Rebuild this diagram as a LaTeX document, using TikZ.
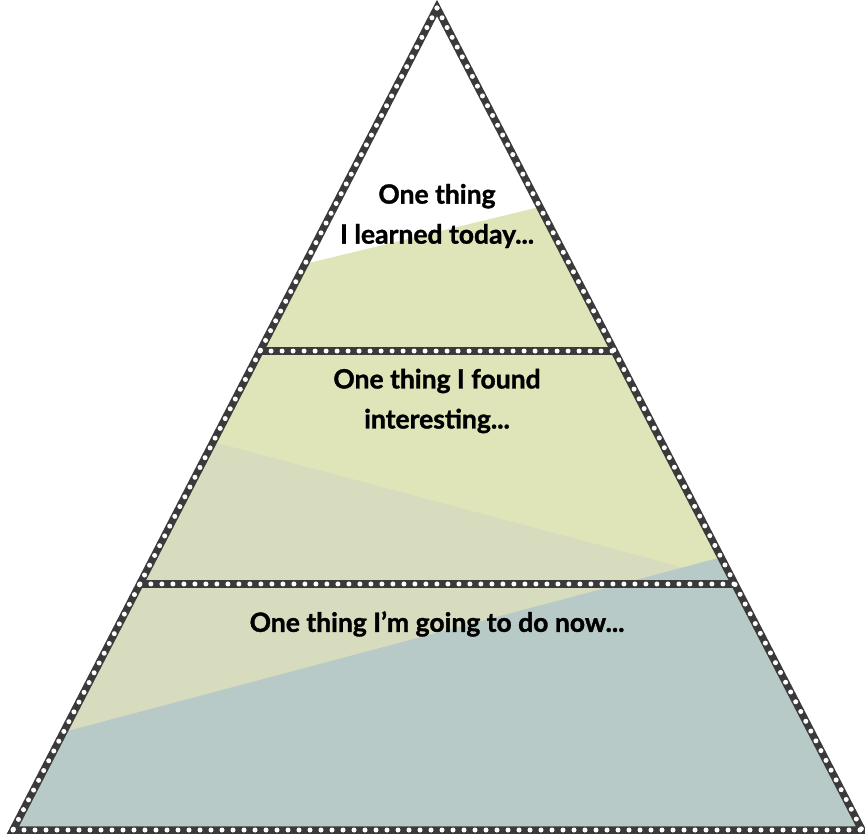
\documentclass[tikz,border=0pt]{standalone}
\usepackage{fontspec}
\setmainfont{Lato}[BoldFeatures={FakeBold=1.3}]
\usetikzlibrary{calc}
\definecolor{dgray}{HTML}{3A3A3A}
\definecolor{gfill}{HTML}{DFE5B9}
\definecolor{gdark}{HTML}{D8DCBE}
\definecolor{bfill}{HTML}{B8CAC7}
\tikzset{
  border/.style={draw=dgray, line width=7.5pt, line join=miter},
  dots/.style={draw=white, line width=5pt, line cap=round, dash pattern=on 0pt off 11pt},
  lbl/.style={font=\fontsize{26.5}{40}\selectfont\bfseries, align=center, text=black}
}
\begin{document}
\begin{tikzpicture}[x=1pt,y=-1pt]
\useasboundingbox (0,0) rectangle (865,834);
\coordinate (apex) at (437,8);
\coordinate (bl) at (13,830);
\coordinate (br) at (862,830);
\coordinate (l1) at ($(apex)!0.4173!(bl)$);
\coordinate (r1) at ($(apex)!0.4173!(br)$);
\coordinate (l2) at ($(apex)!0.7007!(bl)$);
\coordinate (r2) at ($(apex)!0.7007!(br)$);
\begin{scope}
  \clip (apex) -- (bl) -- (br) -- cycle;
  \fill[white] (0,0) rectangle (865,834);
  \fill[gfill] (0,338) -- (865,128) -- (865,834) -- (0,834) -- cycle;
  \fill[gdark] (0,385) -- (865,616) -- (865,834) -- (0,834) -- cycle;
  \fill[bfill] (0,749) -- (865,519) -- (865,834) -- (0,834) -- cycle;
\end{scope}
\draw[border] (l1) -- (r1);
\draw[border] (l2) -- (r2);
\draw[border] (apex) -- (bl) -- (br) -- cycle;
\draw[dots] (l1) -- (r1);
\draw[dots] (l2) -- (r2);
\draw[dots] (apex) -- (bl);
\draw[dots] (apex) -- (br);
\draw[dots] (bl) -- (br);
\node[lbl] (t1) at (437,216) {One thing\\I learned today...};
\node[lbl] (t2) at (437,401) {One thing I found\\interesting...};
\node[lbl] (t3) at (437,624) {One thing I’m going to do now...};
\end{tikzpicture}
\end{document}
